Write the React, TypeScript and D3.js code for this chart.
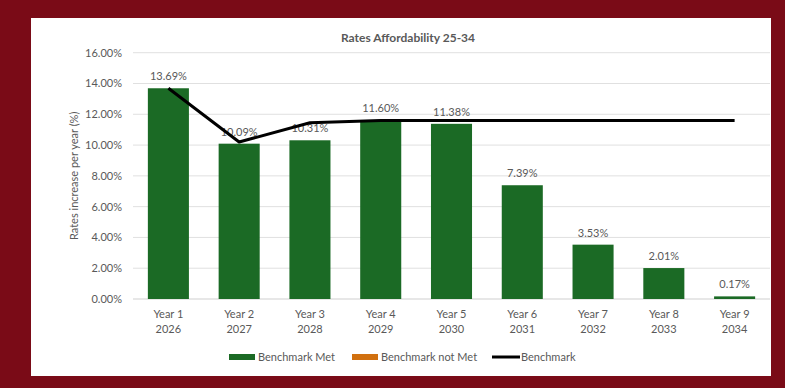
import React from "react";
import { scaleBand, scaleLinear, line } from "d3";

// chart data
const years = ["Year 1", "Year 2", "Year 3", "Year 4", "Year 5", "Year 6", "Year 7", "Year 8", "Year 9"];
const calendarYears = ["2026", "2027", "2028", "2029", "2030", "2031", "2032", "2033", "2034"];
const rateIncrease = [13.69, 10.09, 10.31, 11.6, 11.38, 7.39, 3.53, 2.01, 0.17];
const benchmark = [13.69, 10.2, 11.45, 11.6, 11.6, 11.6, 11.6, 11.6, 11.6];
const yTicks = [0, 2, 4, 6, 8, 10, 12, 14, 16];

const W = 785;
const H = 388;
const font = "Lato, 'Open Sans', sans-serif";
const grey = "#595959";
const green = "#1b6a25";
const orange = "#d1700f";

export default function App() {
  const left = 133;
  const right = 770;
  const top = 52.7;
  const bottom = 299;

  const xScale = scaleBand().domain(years).range([left, right]).paddingInner(0.42).paddingOuter(0.21);
  const yScale = scaleLinear().domain([0, 16]).range([bottom, top]);

  const benchLine = line<number>()
    .x((_, i) => (xScale(years[i]) ?? 0) + xScale.bandwidth() / 2)
    .y((d) => yScale(d));

  return (
    <svg
      width={W}
      height={H}
      style={{ position: "absolute", left: 0, top: 0, display: "block" }}
      fontFamily={font}
    >
      <rect x={0} y={0} width={W} height={H} fill="#7a0b17" />
      <rect x={31} y={18} width={740} height={358} fill="#ffffff" />

      {/* title */}
      <text x={408} y={41.5} textAnchor="middle" fontSize={12} fontWeight="bold" fill={grey}>
        Rates Affordability 25-34
      </text>

      {/* gridlines + y ticks */}
      {yTicks.map((t) => (
        <g key={t}>
          <line
            x1={left}
            x2={right}
            y1={yScale(t)}
            y2={yScale(t)}
            stroke={t === 0 ? "#cfcfcf" : "#e0e0e0"}
            strokeWidth={1}
          />
          <text x={122} y={yScale(t) + 4} textAnchor="end" fontSize={11} fill={grey}>
            {t.toFixed(2)}%
          </text>
        </g>
      ))}

      {/* y axis title */}
      <text
        transform={`translate(78, ${(top + bottom) / 2}) rotate(-90)`}
        textAnchor="middle"
        fontSize={11}
        fill={grey}
      >
        Rates increase per year (%)
      </text>

      {/* bars */}
      {rateIncrease.map((v, i) => (
        <rect
          key={years[i]}
          x={xScale(years[i])}
          y={yScale(v)}
          width={xScale.bandwidth()}
          height={bottom - yScale(v)}
          fill={green}
        />
      ))}

      {/* data labels */}
      {rateIncrease.map((v, i) => (
        <text
          key={"l" + i}
          x={(xScale(years[i]) ?? 0) + xScale.bandwidth() / 2}
          y={yScale(v) - 8}
          textAnchor="middle"
          fontSize={11}
          fill={grey}
        >
          {v.toFixed(2)}%
        </text>
      ))}

      {/* benchmark line */}
      <path d={benchLine(benchmark) ?? ""} fill="none" stroke="#000" strokeWidth={3} strokeLinejoin="round" />

      {/* x labels */}
      {years.map((y, i) => {
        const cx = (xScale(y) ?? 0) + xScale.bandwidth() / 2;
        return (
          <g key={"x" + i}>
            <text x={cx} y={318} textAnchor="middle" fontSize={11} fill={grey}>
              {y}
            </text>
            <text x={cx} y={333} textAnchor="middle" fontSize={11} fill={grey}>
              {calendarYears[i]}
            </text>
          </g>
        );
      })}

      {/* legend */}
      <rect x={229} y={354} width={26} height={6} fill={green} />
      <text x={258} y={361} fontSize={11} fill={grey}>Benchmark Met</text>
      <rect x={352} y={354} width={26} height={6} fill={orange} />
      <text x={381} y={361} fontSize={11} fill={grey}>Benchmark not Met</text>
      <line x1={492} x2={520} y1={357} y2={357} stroke="#000" strokeWidth={3} />
      <text x={521} y={361} fontSize={11} fill={grey}>Benchmark</text>
    </svg>
  );
}
